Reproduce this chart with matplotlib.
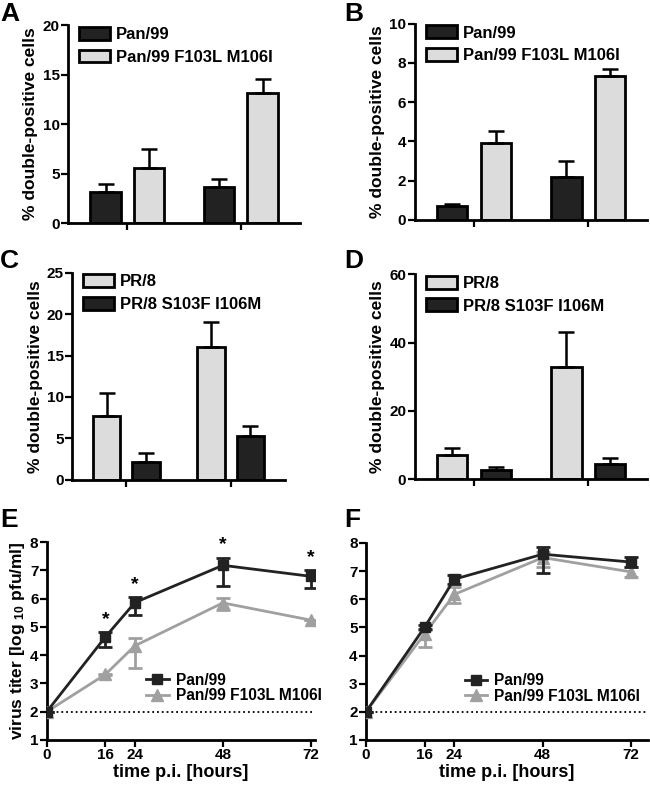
import matplotlib.pyplot as plt
import numpy as np

plt.rcParams['font.family'] = ['Liberation Sans', 'DejaVu Sans']
plt.rcParams['font.weight'] = 'bold'
plt.rcParams['mathtext.fontset'] = 'custom'
plt.rcParams['mathtext.bf'] = 'Liberation Sans:bold'
plt.rcParams['mathtext.rm'] = 'Liberation Sans:bold'

# bar panels: two groups, two series each
pan_labels = ['Pan/99', 'Pan/99 F103L M106I']
pr_labels = ['PR/8', 'PR/8 S103F I106M']

a_wt = [3.1, 3.6]
a_wt_err = [0.8, 0.85]
a_mut = [5.6, 13.1]
a_mut_err = [1.9, 1.45]

b_wt = [0.72, 2.18]
b_wt_err = [0.1, 0.8]
b_mut = [3.91, 7.33]
b_mut_err = [0.63, 0.37]

c_wt = [7.65, 16.0]
c_wt_err = [2.8, 3.0]
c_mut = [2.2, 5.3]
c_mut_err = [1.0, 1.25]

d_wt = [7.2, 32.8]
d_wt_err = [2.05, 10.4]
d_mut = [2.7, 4.3]
d_mut_err = [0.8, 1.8]

# growth curves
hours = [0, 16, 24, 48, 72]
e_wt = [2.0, 4.65, 5.86, 7.18, 6.79]
e_wt_lo = [0, 0.36, 0.45, 0.74, 0.40]
e_wt_hi = [0, 0.17, 0.20, 0.27, 0.23]
e_mut = [2.0, 3.32, 4.33, 5.85, 5.24]
e_mut_lo = [0, 0.03, 0.78, 0.26, 0.0]
e_mut_hi = [0, 0.03, 0.28, 0.19, 0.0]

f_wt = [2.0, 5.02, 6.71, 7.6, 7.32]
f_wt_lo = [0, 0.07, 0.16, 0.67, 0.17]
f_wt_hi = [0, 0.08, 0.14, 0.26, 0.18]
f_mut = [2.0, 4.78, 6.17, 7.48, 6.97]
f_mut_lo = [0, 0.47, 0.32, 0.33, 0.18]
f_mut_hi = [0, 0.12, 0.25, 0.20, 0.18]

dark = '#222222'
light = '#dcdcdc'
grey = '#a0a0a0'

fig = plt.figure(figsize=(6.5, 7.88), dpi=100)


def style_axes(ax):
    for s in ['top', 'right']:
        ax.spines[s].set_visible(False)
    for s in ['left', 'bottom']:
        ax.spines[s].set_linewidth(2)
    ax.tick_params(width=1.6, length=5, direction='out', labelsize=11, pad=1)


def bar_panel(rect, first, first_err, second, second_err, first_color, second_color,
              labels, ymax, yticks):
    ax = fig.add_axes(rect)
    x = np.arange(2)
    w = 0.265
    ax.bar(x - 0.19, first, w, color=first_color, edgecolor='black', linewidth=2, label=labels[0])
    ax.bar(x + 0.19, second, w, color=second_color, edgecolor='black', linewidth=2, label=labels[1])
    ax.errorbar(x - 0.19, first, yerr=[np.zeros(2), first_err], fmt='none', ecolor='black',
                elinewidth=1.8, capsize=6, capthick=1.8)
    ax.errorbar(x + 0.19, second, yerr=[np.zeros(2), second_err], fmt='none', ecolor='black',
                elinewidth=1.8, capsize=6, capthick=1.8)
    ax.set_xlim(-0.52, 1.52)
    ax.set_ylim(0, ymax)
    ax.set_yticks(yticks)
    ax.set_xticks(x)
    ax.set_xticklabels([])
    style_axes(ax)
    ax.set_ylabel('% double-positive cells', fontsize=12.5, fontweight='bold', labelpad=3)
    ax.legend(loc='upper left', bbox_to_anchor=(0.02, 1.025), frameon=False, fontsize=12,
              handlelength=1.85, handleheight=0.8, labelspacing=0.45, handletextpad=0.35,
              borderaxespad=0)
    return ax


bar_panel([0.1046, 0.717, 0.357, 0.251], a_wt, a_wt_err, a_mut, a_mut_err, dark, light,
          pan_labels, 20, [0, 5, 10, 15, 20])
bar_panel([0.638, 0.721, 0.358, 0.249], b_wt, b_wt_err, b_mut, b_mut_err, dark, light,
          pan_labels, 10, [0, 2, 4, 6, 8, 10])
bar_panel([0.111, 0.391, 0.327, 0.263], c_wt, c_wt_err, c_mut, c_mut_err, light, dark,
          pr_labels, 25, [0, 5, 10, 15, 20, 25])
bar_panel([0.638, 0.392, 0.358, 0.260], d_wt, d_wt_err, d_mut, d_mut_err, light, dark,
          pr_labels, 60, [0, 20, 40, 60])


def curve_panel(rect, wt, wt_lo, wt_hi, mut, mut_lo, mut_hi, xmax, ylabel, leg_x):
    ax = fig.add_axes(rect)
    ax.axhline(2, color='black', linestyle=':', linewidth=1.3, zorder=1)
    mut_eb = ax.errorbar(hours, mut, yerr=[mut_lo, mut_hi], color=grey, marker='^', markersize=8,
                         linewidth=2, elinewidth=2, capsize=5, capthick=2, zorder=3)
    wt_eb = ax.errorbar(hours, wt, yerr=[wt_lo, wt_hi], color=dark, marker='s', markersize=7,
                        linewidth=2, elinewidth=2, capsize=5, capthick=2, zorder=4)
    ax.set_xlim(0, xmax)
    ax.set_ylim(1, 8)
    ax.set_xticks(hours)
    ax.set_yticks(range(1, 9))
    style_axes(ax)
    ax.spines['left'].set_position(('data', 0))
    ax.set_xlabel('time p.i. [hours]', fontsize=13, fontweight='bold', labelpad=1)
    if ylabel:
        ax.set_ylabel(r'virus titer [log $\mathbf{_{10}}$ pfu/ml]', fontsize=12.5,
                      fontweight='bold', labelpad=2)
    ax.legend([wt_eb.lines[0], mut_eb.lines[0]], pan_labels, loc='upper left',
              bbox_to_anchor=(leg_x, 0.34), frameon=False, fontsize=11.2, handlelength=1.45,
              labelspacing=0.05, handletextpad=0.45, borderaxespad=0, borderpad=0)
    return ax


ax_e = curve_panel([0.072, 0.061, 0.413, 0.251], e_wt, e_wt_lo, e_wt_hi, e_mut, e_mut_lo, e_mut_hi,
                   73.2, True, 0.37)
for h, v, hi in zip(hours[1:], e_wt[1:], e_wt_hi[1:]):
    ax_e.annotate('*', (h, v + hi), xytext=(0, 3), textcoords='offset points', ha='center',
                  va='bottom', fontsize=14, fontweight='bold')

curve_panel([0.563, 0.061, 0.434, 0.250], f_wt, f_wt_lo, f_wt_hi, f_mut, f_mut_lo, f_mut_hi,
            76.6, False, 0.35)

for letter, x, y in [('A', 0.0, 0.997), ('B', 0.53, 0.997), ('C', 0.0, 0.684),
                     ('D', 0.53, 0.684), ('E', 0.0, 0.355), ('F', 0.53, 0.355)]:
    fig.text(x, y, letter, fontsize=19, fontweight='bold', va='top', ha='left')

fig.savefig('out.png', dpi=100)
